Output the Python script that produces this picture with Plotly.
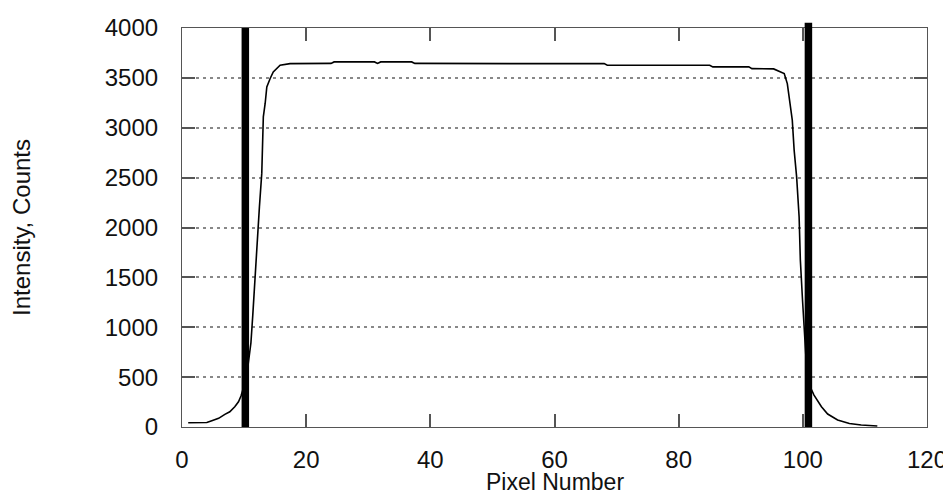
import plotly.graph_objects as go

# Profile
pixel = [1, 2, 3, 4, 4.8, 5.9, 6.9, 7.7, 8.5, 9.1, 9.5, 10.2, 10.6, 11.1, 11.4, 11.77,
         12.05, 12.47, 12.85, 12.95, 13.1, 13.4, 13.66, 14.2, 14.7, 15.8, 17.4, 24.0,
         24.5, 31.0, 31.5, 32.0, 37.0, 37.5, 52.0, 53.4, 68.0, 68.5, 85.0, 85.5, 91.3,
         91.8, 95.3, 96.5, 97.0, 97.5, 97.9, 98.3, 98.6, 99.0, 99.4, 99.6, 99.95, 100.5,
         101.2, 101.8, 103.0, 104.0, 105.6, 107.5, 109.4, 112.0]
intensity = [43, 43, 43, 45, 63, 87, 127, 153, 203, 253, 310, 450, 600, 842, 1122, 1493,
             1874, 2207, 2545, 2876, 3110, 3246, 3410, 3494, 3560, 3627, 3643, 3645,
             3660, 3660, 3645, 3660, 3660, 3645, 3648, 3643, 3643, 3627, 3627, 3610, 3610,
             3593, 3590, 3560, 3543, 3443, 3276, 3076, 2776, 2508, 2108, 1673, 1273, 700,
             400, 320, 203, 130, 70, 35, 20, 10]

edge_positions = [10.2, 100.9]
edge_tops = [1.0, 1.013]  # fraction of plot height

x_ticks = [0, 20, 40, 60, 80, 100, 120]
y_ticks = [0, 500, 1000, 1500, 2000, 2500, 3000, 3500, 4000]

FONT = "Liberation Sans, Arial, sans-serif"

fig = go.Figure()
fig.add_trace(go.Scatter(x=pixel, y=intensity, mode="lines",
                         line=dict(color="black", width=1.6), showlegend=False))

for xp, top in zip(edge_positions, edge_tops):
    fig.add_shape(type="line", xref="x", yref="paper", x0=xp, x1=xp, y0=0, y1=top,
                  line=dict(color="black", width=7.5))

axis_common = dict(
    showline=True, mirror="ticks", linecolor="#555", linewidth=1.2,
    ticks="inside", ticklen=13, tickcolor="#555", tickwidth=1.5,
    tickfont=dict(family=FONT, size=24, color="#111"),
    zeroline=False, automargin=False,
)

fig.update_xaxes(range=[0, 120], tickvals=x_ticks, showgrid=False,
                 ticklabelstandoff=11, **axis_common)
fig.update_yaxes(range=[0, 4000], tickvals=y_ticks, showgrid=True,
                 gridcolor="#888", griddash="3px,4px", gridwidth=1.5,
                 ticklabelstandoff=18,
                 title=dict(text="Intensity, Counts", font=dict(family=FONT, size=24, color="#111"),
                            standoff=70),
                 **axis_common)

fig.add_annotation(text="Pixel Number", xref="paper", yref="paper", x=0.5, y=-0.138,
                   xanchor="center", yanchor="middle", showarrow=False,
                   font=dict(family=FONT, size=23, color="#111"))

# page body has an 8px margin, so the figure is sized/offset to compensate
fig.update_layout(
    width=943, height=488,
    margin=dict(l=174, r=24, t=20, b=69),
    plot_bgcolor="white", paper_bgcolor="white",
    font=dict(family=FONT),
)

fig.write_html("out.html")
